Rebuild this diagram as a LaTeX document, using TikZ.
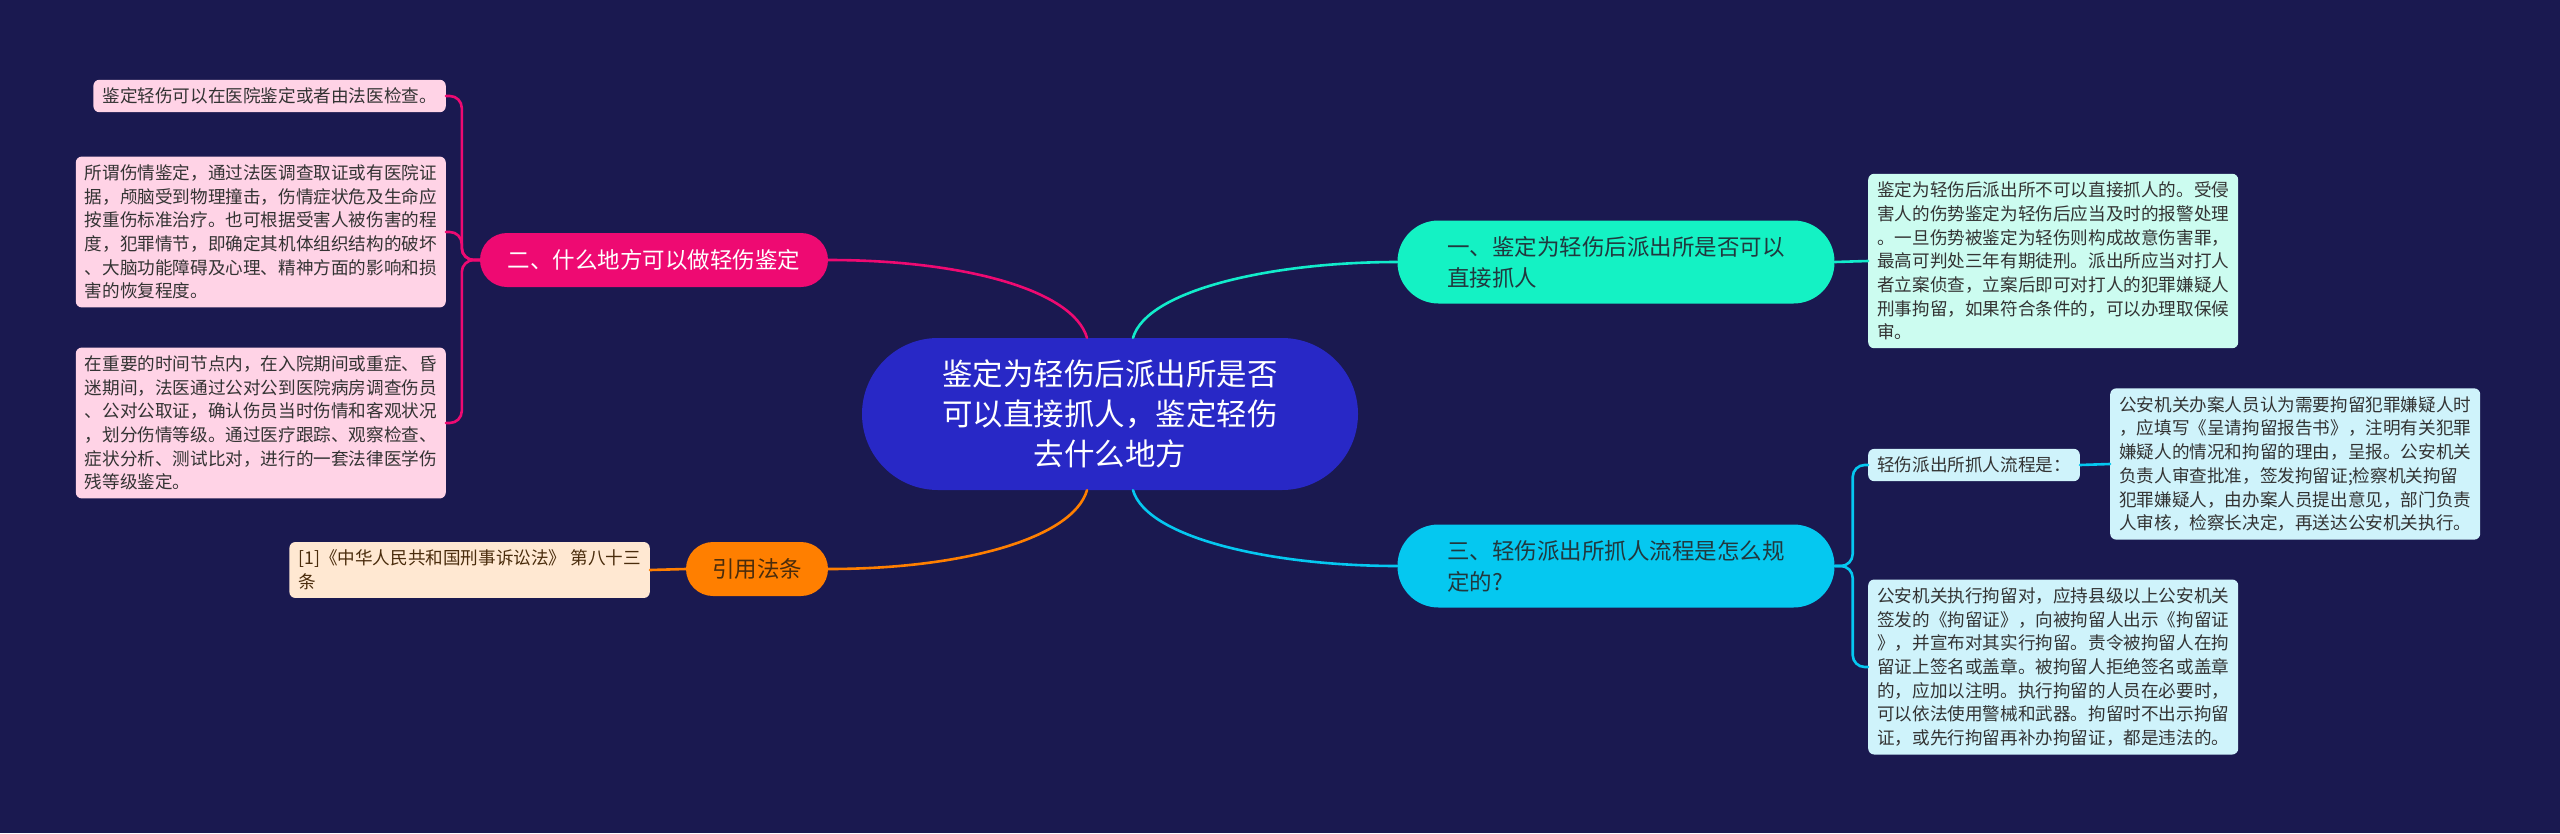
\documentclass[tikz,border=0pt]{standalone}
\usepackage{fontspec}
\newfontfamily\cjk{Noto Sans CJK SC}
\definecolor{nen}{HTML}{1A1950}
\definecolor{cgoc}{HTML}{2828C6}
\definecolor{cmint}{HTML}{14F2C4}
\definecolor{ccyan}{HTML}{05C8F0}
\definecolor{chong}{HTML}{EE0A72}
\definecolor{ccam}{HTML}{FF7F00}
\definecolor{lahong}{HTML}{FFD3E6}
\definecolor{lacam}{HTML}{FFE8D2}
\definecolor{lamint}{HTML}{CCFCF0}
\definecolor{laxanh}{HTML}{CFF3FB}
\definecolor{chu}{HTML}{333333}
\definecolor{chutoi}{HTML}{21383E}
\definecolor{chunau}{HTML}{4A2C0C}
\begin{document}
\begin{tikzpicture}[x=1pt,y=-1pt,
    goc/.style={fill=cgoc,text=white,rounded corners=76pt,minimum width=496pt,minimum height=152pt,align=center,font=\cjk\fontsize{30.5}{40}\selectfont},
    nhanh/.style={rounded corners=27pt,minimum height=54pt,align=left,font=\cjk\fontsize{22.5}{31}\selectfont},
    la/.style={rounded corners=6pt,inner xsep=9pt,inner ysep=8pt,align=left,text=chu,font=\cjk\fontsize{17.6}{23.7}\selectfont},
    lk/.style={line width=2.6pt,line cap=round}]
    \useasboundingbox (0,0) rectangle (2560,833);
    \fill[nen] (0,0) rectangle (2560,833);
    % goc va nhanh
    \node[goc] (goc) at (1110,414) {鉴定为轻伤后派出所是否\\可以直接抓人，鉴定轻伤\\去什么地方};
    \node[nhanh,fill=cmint,text=chutoi,minimum width=437pt,minimum height=83pt,rounded corners=41pt] (b1) at (1616,262) {一、鉴定为轻伤后派出所是否可以\\直接抓人};
    \node[nhanh,fill=ccyan,text=chutoi,minimum width=437pt,minimum height=83pt,rounded corners=41pt] (b3) at (1616,566) {三、轻伤派出所抓人流程是怎么规\\定的?};
    \node[nhanh,fill=chong,text=white,minimum width=348pt] (b2) at (654,260) {二、什么地方可以做轻伤鉴定};
    \node[nhanh,fill=ccam,text=chunau,minimum width=142pt] (b4) at (757,569) {引用法条};
    % la ben trai
    \node[la,fill=lahong,anchor=east] (l1) at (446,96) {鉴定轻伤可以在医院鉴定或者由法医检查。};
    \node[la,fill=lahong,anchor=east] (l2) at (446,232) {所谓伤情鉴定，通过法医调查取证或有医院证\\据，颅脑受到物理撞击，伤情症状危及生命应\\按重伤标准治疗。也可根据受害人被伤害的程\\度，犯罪情节，即确定其机体组织结构的破坏\\、大脑功能障碍及心理、精神方面的影响和损\\害的恢复程度。};
    \node[la,fill=lahong,anchor=east] (l3) at (446,423) {在重要的时间节点内，在入院期间或重症、昏\\迷期间，法医通过公对公到医院病房调查伤员\\、公对公取证，确认伤员当时伤情和客观状况\\，划分伤情等级。通过医疗跟踪、观察检查、\\症状分析、测试比对，进行的一套法律医学伤\\残等级鉴定。};
    \node[la,fill=lacam,text=chunau,anchor=east] (l4) at (650,570) {[1]《中华人民共和国刑事诉讼法》 第八十三\\条};
    % la ben phai
    \node[la,fill=lamint,anchor=west] (r1) at (1868,261) {鉴定为轻伤后派出所不可以直接抓人的。受侵\\害人的伤势鉴定为轻伤后应当及时的报警处理\\。一旦伤势被鉴定为轻伤则构成故意伤害罪，\\最高可判处三年有期徒刑。派出所应当对打人\\者立案侦查，立案后即可对打人的犯罪嫌疑人\\刑事拘留，如果符合条件的，可以办理取保候\\审。};
    \node[la,fill=laxanh,anchor=west] (r2) at (1868,465) {轻伤派出所抓人流程是：};
    \node[la,fill=laxanh,anchor=west] (r3) at (2110,464) {公安机关办案人员认为需要拘留犯罪嫌疑人时\\，应填写《呈请拘留报告书》，注明有关犯罪\\嫌疑人的情况和拘留的理由，呈报。公安机关\\负责人审查批准，签发拘留证;检察机关拘留\\犯罪嫌疑人，由办案人员提出意见，部门负责\\人审核，检察长决定，再送达公安机关执行。};
    \node[la,fill=laxanh,anchor=west] (r4) at (1868,667) {公安机关执行拘留对，应持县级以上公安机关\\签发的《拘留证》，向被拘留人出示《拘留证\\》，并宣布对其实行拘留。责令被拘留人在拘\\留证上签名或盖章。被拘留人拒绝签名或盖章\\的，应加以注明。执行拘留的人员在必要时，\\可以依法使用警械和武器。拘留时不出示拘留\\证，或先行拘留再补办拘留证，都是违法的。};
    % duong noi
    \draw[lk,cmint!85!ccyan] ([xshift=23pt]goc.north) .. controls +(14,-48) and +(-125,0) .. (b1.west);
    \draw[lk,chong] ([xshift=-23pt]goc.north) .. controls +(-14,-48) and +(135,0) .. (b2.east);
    \draw[lk,ccyan] ([xshift=23pt]goc.south) .. controls +(14,48) and +(-125,0) .. (b3.west);
    \draw[lk,ccam] ([xshift=-23pt]goc.south) .. controls +(-14,48) and +(135,0) .. (b4.east);
    \draw[lk,cmint!85!ccyan] (b1.east) -- (r1.west);
    \draw[lk,ccam] (b4.west) -- (l4.east);
    \draw[lk,ccyan] (r2.east) -- (r3.west);
    \draw[lk,chong,rounded corners=12pt] (b2.west) -- ++(-18,0) |- (l1.east);
    \draw[lk,chong,rounded corners=12pt] (b2.west) -- ++(-18,0) |- (l2.east);
    \draw[lk,chong,rounded corners=12pt] (b2.west) -- ++(-18,0) |- (l3.east);
    \draw[lk,ccyan,rounded corners=12pt] (b3.east) -- ++(18,0) |- (r2.west);
    \draw[lk,ccyan,rounded corners=12pt] (b3.east) -- ++(18,0) |- (r4.west);
\end{tikzpicture}
\end{document}
